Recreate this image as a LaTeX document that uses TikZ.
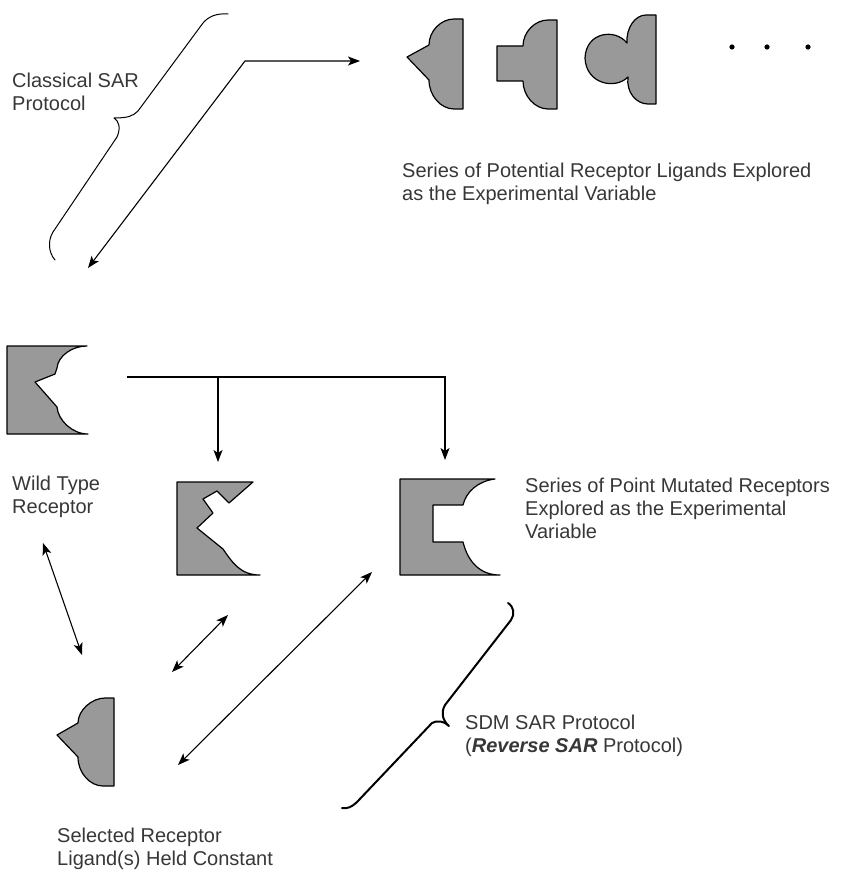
\documentclass[tikz,border=0pt]{standalone}
\usepackage{fontspec}
\setmainfont{Liberation Sans}
\usetikzlibrary{arrows.meta}
\definecolor{shapegray}{RGB}{153,153,153}
\definecolor{labelink}{RGB}{55,55,55}
\begin{document}
\begin{tikzpicture}[x=1pt,y=-1pt,
  molecule/.style={fill=shapegray,draw=black,line width=1.2pt,line join=round},
  link/.style={draw=black,line width=1.1pt,line join=miter},
  tip/.style={-{Stealth[length=12pt,width=9pt,inset=3pt]}},
  bothtips/.style={{Stealth[length=12pt,width=9pt,inset=3pt]}-{Stealth[length=12pt,width=9pt,inset=3pt]}},
  label/.style={font=\fontsize{20}{23}\selectfont,text=labelink,inner sep=0pt,anchor=base west,align=left},
  brace/.style={draw=black,line cap=round,line join=round}]
\useasboundingbox (0,0) rectangle (850,872);

% ---- ligand series (top row) ----
\path[molecule] (463,19) -- (454,19) .. controls (441,19) and (429,31) .. (429,45)
  -- (407,57) -- (429,80) .. controls (429,96) and (441,109) .. (454,109) -- (463,109) -- cycle;
\path[molecule] (557,20) -- (548,20) .. controls (535,20) and (523,32) .. (523,46)
  -- (497,46) -- (497,81) -- (523,81) .. controls (523,96) and (535,109) .. (548,109) -- (557,109) -- cycle;
\path[molecule] (656,15) -- (646,15) .. controls (635,15) and (626,28) .. (627,43)
  .. controls (615,28) and (586,32) .. (585,58) .. controls (586,84) and (615,90) .. (628,77)
  .. controls (626,92) and (636,104) .. (648,104) -- (656,104) -- cycle;
\fill (732,47) circle (2.6) (767,47) circle (2.6) (808,47) circle (2.6);

% ---- wild type receptor ----
\path[molecule] (7,346) -- (87,346) .. controls (72,346) and (58,356) .. (57,368)
  -- (55,374) -- (35,382) -- (57,407) .. controls (58,420) and (72,434) .. (88,434) -- (7,434) -- cycle;

% ---- point mutated receptors ----
\path[molecule] (177,482) -- (253,482) -- (229,503) -- (217,491) -- (203,499) -- (213,513)
  -- (197,528) -- (223,549) .. controls (232,562) and (240,575) .. (260,575) -- (177,575) -- cycle;
\path[molecule] (400,479) -- (495,479) .. controls (478,481) and (466,492) .. (463,505)
  -- (433,505) -- (433,542) -- (463,542) .. controls (468,562) and (480,575) .. (500,575) -- (400,575) -- cycle;

% ---- selected ligand held constant ----
\path[molecule] (114,698) -- (105,698) .. controls (92,698) and (78,710) .. (78,723)
  -- (57,735) -- (78,757) .. controls (78,773) and (90,786) .. (103,786) -- (114,786) -- cycle;

% ---- braces ----
\path[brace,line width=1pt] (228,14) .. controls (216,13) and (208,17) .. (203,23) -- (138,111)
  .. controls (133,116) and (128,118) .. (114,118)
  .. controls (119,121) and (121,128) .. (117,137) -- (53,232)
  .. controls (48,240) and (48,252) .. (55,260);
\path[brace,line width=2pt] (508,603) .. controls (514,607) and (515,614) .. (511,620) -- (445,705)
  .. controls (441,712) and (442,720) .. (449,726)
  .. controls (444,721) and (437,720) .. (432,723) -- (357,802)
  .. controls (352,807) and (347,809) .. (342,808);

% ---- connector end points ----
\coordinate (csEnd) at (88,268);
\coordinate (csBend) at (245,61);
\coordinate (csStart) at (360,61);
\coordinate (wtOut) at (127,377);
\coordinate (fork) at (218,377);
\coordinate (corner) at (445,377);
\coordinate (mutA) at (218,462);
\coordinate (mutB) at (445,460);
\coordinate (wtLow) at (43,543);
\coordinate (selTop) at (82,655);
\coordinate (selA) at (172,672);
\coordinate (mutAlow) at (228,615);
\coordinate (selB) at (178,765);
\coordinate (mutBlow) at (372,572);

% ---- connectors ----
\draw[link,bothtips] (csEnd) -- (csBend) -- (csStart);
\draw[link,tip] (wtOut) -- (corner) -- (mutB);
\draw[link,tip] (fork) -- (mutA);
\draw[link,bothtips] (wtLow) -- (selTop);
\draw[link,bothtips] (selA) -- (mutAlow);
\draw[link,bothtips] (selB) -- (mutBlow);

% ---- labels (placed by the baseline of their last line) ----
\node[label] (classical) at (12,111) {Classical SAR\\Protocol};
\node[label] (ligands) at (402,200) {Series of Potential Receptor Ligands Explored\\as the Experimental Variable};
\node[label] (wildtype) at (12,513) {Wild Type\\Receptor};
\node[label] (mutants) at (525,538) {Series of Point Mutated Receptors\\Explored as the Experimental\\Variable};
\node[label] (sdm) at (465,752) {SDM SAR Protocol\\(\textbf{\textit{Reverse SAR}} Protocol)};
\node[label] (selected) at (57,865) {Selected Receptor\\Ligand(s) Held Constant};
\end{tikzpicture}
\end{document}
